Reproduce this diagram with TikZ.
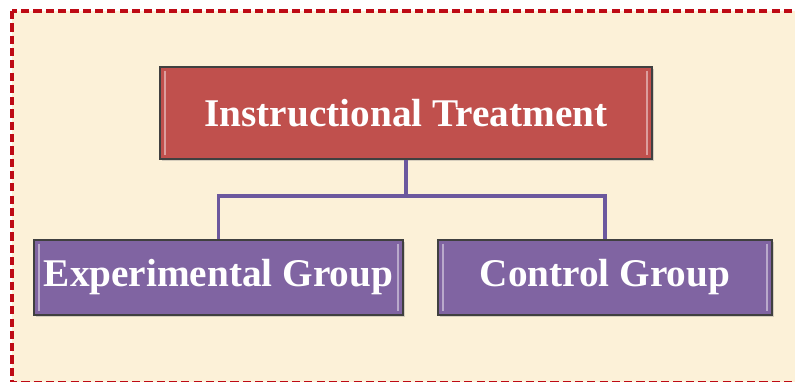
\documentclass[tikz,border=0pt]{standalone}
\usepackage{fontspec}
\setmainfont{Liberation Serif}
\definecolor{parchment}{RGB}{252,241,216}
\definecolor{framered}{RGB}{190,10,20}
\definecolor{treatred}{RGB}{192,80,77}
\definecolor{grouppurple}{RGB}{128,100,162}
\definecolor{linkpurple}{RGB}{108,88,158}
\usetikzlibrary{positioning, shadows}

\begin{document}
\begin{tikzpicture}[
      x=0.03cm, y=-0.03cm,
      box/.style={rectangle, draw=black!75, line width=0.9pt, text=white, align=center, inner sep=0pt,
        font=\fontsize{33.5}{36}\selectfont\bfseries,
        drop shadow={opacity=0.3, shadow xshift=1.5pt, shadow yshift=-1.5pt},
        path picture={
          \draw[white, opacity=0.45, line width=1.6pt]
            ([xshift=4pt, yshift=-3pt]path picture bounding box.north west) --
            ([xshift=4pt, yshift=3pt]path picture bounding box.south west)
            ([xshift=-4pt, yshift=-3pt]path picture bounding box.north east) --
            ([xshift=-4pt, yshift=3pt]path picture bounding box.south east);
        }},
      treat/.style={box, fill=treatred, minimum width=14.76cm, minimum height=2.76cm},
      grp/.style={box, fill=grouppurple, minimum height=2.25cm},
      link/.style={draw=linkpurple, line width=3pt},
      frame/.style={draw=framered, line width=2.6pt, dash pattern=on 7pt off 3.5pt},
    ]
    \useasboundingbox (0,0) rectangle (795,381);
    \clip (0,0) rectangle (795,381);
    \fill[parchment] (12,11) rectangle (805,390);
    \draw[frame] (12,11) rectangle (805,383);

    \node[treat] (treat) at (406,113) {Instructional Treatment};
    \node[grp, minimum width=11.07cm] (exp) at (218.5,277.5) {Experimental Group};
    \node[grp, minimum width=10.02cm] (ctrl) at (605,277.5) {Control Group};

    \coordinate (split) at (406,196);
    \draw[link] (treat.south) -- (split);
    \draw[link] (exp.north) |- (split) -| (ctrl.north);
  \end{tikzpicture}
\end{document}
